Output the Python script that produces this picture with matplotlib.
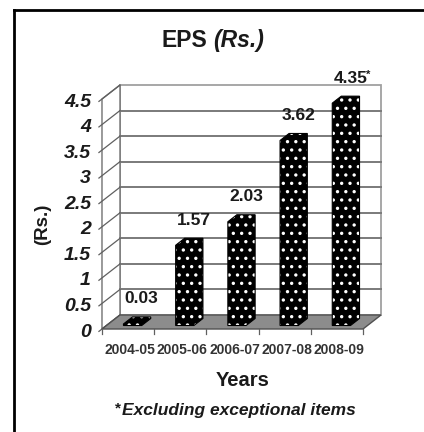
import matplotlib
matplotlib.use("Agg")
import matplotlib.pyplot as plt
from matplotlib.patches import Polygon
from matplotlib.lines import Line2D

years = ["2004-05", "2005-06", "2006-07", "2007-08", "2008-09"]
eps = [0.03, 1.57, 2.03, 3.62, 4.35]
bar_labels = ["0.03", "1.57", "2.03", "3.62", "4.35"]
starred = [False, False, False, False, True]
y_ticks = [0, 0.5, 1, 1.5, 2, 2.5, 3, 3.5, 4, 4.5]
y_tick_labels = ["0", "0.5", "1", "1.5", "2", "2.5", "3", "3.5", "4", "4.5"]

plt.rcParams['font.family'] = ['Liberation Sans', 'DejaVu Sans']
plt.rcParams['hatch.linewidth'] = 1.2
TXT = '#1a1a1a'

W, H = 424, 432
fig = plt.figure(figsize=(W / 100, H / 100), dpi=100)
ax = fig.add_axes([120 / W, 1 - 315 / H, 261 / W, 230 / H])
n = len(years)
ymax = y_ticks[-1]
ax.set_xlim(0, n)
ax.set_ylim(0, ymax)
ax.axis('off')

# oblique depth: front plane is shifted left/down
DX, DY = -0.345, -0.274


def proj(x, y, z):
    return (x + DX * z, y + DY * z)


# back wall + side wall
ax.add_patch(Polygon([proj(0, 0, 0), proj(n, 0, 0), proj(n, ymax, 0), proj(0, ymax, 0)],
                     closed=True, fc='white', ec='#a0a0a0', lw=1.3, clip_on=False, zorder=1))
ax.add_patch(Polygon([proj(0, 0, 0), proj(0, ymax, 0), proj(0, ymax, 1), proj(0, 0, 1)],
                     closed=True, fc='white', ec='#707070', lw=1.0, clip_on=False, zorder=1))

for v in y_ticks:
    if 0 < v < ymax:
        xs, ys = zip(proj(0, v, 0), proj(n, v, 0))
        ax.add_line(Line2D(xs, ys, color='#7a7a7a', lw=1.4, clip_on=False, zorder=2))
    xs, ys = zip(proj(0, v, 0), proj(0, v, 1.17))
    ax.add_line(Line2D(xs, ys, color='#606060', lw=0.9, clip_on=False, zorder=2))

# floor
ax.add_patch(Polygon([proj(0, 0, 0), proj(n, 0, 0), proj(n, 0, 1), proj(0, 0, 1)],
                     closed=True, fc='#8c8c8c', ec='#505050', lw=1.0, clip_on=False, zorder=3))
for k in range(n + 1):
    x0, y0 = proj(k, 0, 1)
    ax.add_line(Line2D([x0, x0], [y0, y0 - 0.1], color='#606060', lw=0.9,
                       clip_on=False, zorder=3))

# bars as boxes
zf, zb = 0.75, 0.25
for i, v in enumerate(eps):
    x0, x1 = i + 0.325, i + 0.675
    pts = [proj(x0, 0, zf), proj(x1, 0, zf), proj(x1, 0, zb),
           proj(x1, v, zb), proj(x0, v, zb), proj(x0, v, zf)]
    ax.add_patch(Polygon(pts, closed=True, fc='black', ec='white', lw=0, hatch='..',
                         clip_on=False, zorder=4))
    ax.add_patch(Polygon(pts, closed=True, fill=False, ec='black', lw=0.8,
                         clip_on=False, zorder=5))
    t = ax.annotate(bar_labels[i], proj(i + 0.5, v, zb), xytext=(0, 18),
                    textcoords='offset pixels', ha='center', va='center',
                    fontsize=12.5, fontweight='bold', color=TXT, zorder=6,
                    annotation_clip=False)
    if starred[i]:
        ax.annotate('*', xy=(1, 1), xycoords=t, xytext=(-1, 1), textcoords='offset pixels',
                    ha='left', va='top', fontsize=8, fontweight='bold', color=TXT)

# axis labels
for v, lab in zip(y_ticks, y_tick_labels):
    ax.annotate(lab, proj(0, v, 1), xytext=(-11, -3), textcoords='offset pixels',
                ha='right', va='center', fontsize=14, fontweight='bold',
                style='italic', color=TXT, annotation_clip=False)
for i, lab in enumerate(years):
    ax.annotate(lab, proj(i + 0.5, 0, 1), xytext=(2, -21), textcoords='offset pixels',
                ha='center', va='center', fontsize=10, fontweight='bold', color='#333333',
                annotation_clip=False)

t1 = fig.text(207 / W, 1 - 52 / H, 'EPS', ha='right', va='bottom',
              fontsize=16.5, fontweight='bold', color=TXT)
ax.annotate('(Rs.)', xy=(1, 0), xycoords=t1, xytext=(6, 0), textcoords='offset pixels',
            ha='left', va='bottom', fontsize=16.5, fontweight='bold', style='italic', color=TXT)

fig.text(43 / W, 1 - 224 / H, '(Rs.)', rotation=90, ha='center', va='center',
         fontsize=13.5, fontweight='bold', color=TXT)
fig.text(243 / W, 1 - 380 / H, 'Years', ha='center', va='center',
         fontsize=14.5, fontweight='bold', color=TXT)
fn = fig.text(239 / W, 1 - 411 / H, 'Excluding exceptional items', ha='center', va='center',
              fontsize=12.5, fontweight='bold', style='italic', color=TXT)
ax.annotate('*', xy=(0, 1), xycoords=fn, xytext=(-1, 2), textcoords='offset pixels',
            ha='right', va='top', fontsize=11, fontweight='bold', color=TXT)

# outer frame
fig.add_artist(Line2D([14 / W, 14 / W], [0, 1 - 9.5 / H], transform=fig.transFigure,
                      color='black', lw=2))
fig.add_artist(Line2D([14 / W, 1], [1 - 9.5 / H, 1 - 9.5 / H], transform=fig.transFigure,
                      color='black', lw=2))

fig.savefig('out.png', dpi=100)
